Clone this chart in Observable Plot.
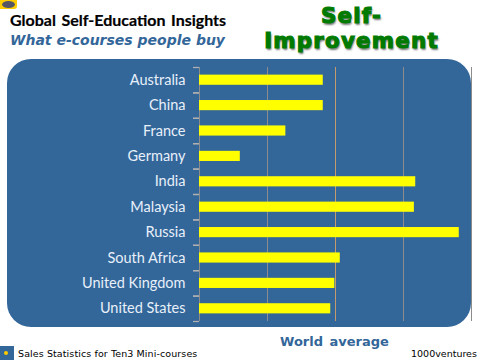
<!DOCTYPE html>
<html><head><meta charset="utf-8">
<script src="https://cdn.jsdelivr.net/npm/d3@7"></script>
<script src="https://cdn.jsdelivr.net/npm/@observablehq/plot@0.6"></script>
<style>
html,body{margin:0;padding:0;background:#fff;width:480px;height:360px;overflow:hidden}
#wrap{position:relative;width:480px;height:360px}
#panel{position:absolute;left:7px;top:59px;width:464px;height:268px;background:#336699;border-radius:24px}
#chart{position:absolute;left:0;top:0}
.t{position:absolute;white-space:nowrap;line-height:1}
#logo{position:absolute;left:0;top:0;width:17px;height:9px;background:#ffcc00;border-radius:0 0 3px 0}
#eye{position:absolute;left:2px;top:1px;width:13px;height:7px;border-radius:50%;background:#556;}
#icon{position:absolute;left:0;top:346px;width:14px;height:14px;background:#336699}
#dot{position:absolute;left:4px;top:5px;width:4px;height:4px;border-radius:50%;background:#ffcc00}
</style></head><body>
<div id="wrap">
<div id="logo"><div id="eye"></div></div>
<div class="t" style="left:10px;top:10px;font:bold 16px Lato,sans-serif;color:#000;word-spacing:1.6px;-webkit-text-stroke:.2px #000">Global Self-Education Insights</div>
<div class="t" style="left:10px;top:32px;font:italic bold 14px 'DejaVu Sans',sans-serif;color:#336699">What e-courses people buy</div>
<div class="t" style="left:264px;top:3px;width:175px;text-align:center;font:bold 21.4px/25.2px 'DejaVu Sans',sans-serif;color:#007a00;-webkit-text-stroke:1.1px #007a00;text-shadow:1px 2px 2px #777;letter-spacing:1.2px;white-space:normal">Self-<br>Improvement</div>
<div id="panel"></div>
<div id="chart"></div>
<div class="t" style="left:280px;top:334px;font:bold 13px 'DejaVu Sans',sans-serif;color:#336699;word-spacing:2px">World average</div>
<div id="icon"><div id="dot"></div></div>
<div class="t" style="left:18px;top:348px;font:9.5px 'DejaVu Sans',sans-serif;color:#000;letter-spacing:.1px">Sales Statistics for Ten3 Mini-courses</div>
<div class="t" style="left:411px;top:348px;font:9.5px 'DejaVu Sans',sans-serif;color:#000">1000ventures</div>
</div>
<script>
const countries = ["Australia","China","France","Germany","India","Malaysia","Russia","South Africa","United Kingdom","United States"];
const values = [1.82,1.82,1.27,0.60,3.18,3.16,3.82,2.07,1.99,1.93];
const grayGrid = [0,1,3,4];
const averageGrid = [2];
const rows = countries.map((country,i)=>({country,value:values[i]}));
const plot = Plot.plot({
  width:480,height:360,
  marginLeft:199,marginRight:9,marginTop:67,marginBottom:39,
  style:{background:"transparent",fontFamily:"Lato,sans-serif",fontSize:"14.5px",color:"#e8f0fa"},
  x:{domain:[0,4],axis:null},
  y:{domain:countries,paddingInner:0.6,paddingOuter:0.3,round:false,label:null,axis:null},
  marks:[
    Plot.ruleX(grayGrid,{stroke:"#8c8c8c",strokeWidth:1}),
    Plot.ruleX(averageGrid,{stroke:"#c49a6c",strokeWidth:1}),
    Plot.axisY({anchor:"left",tickSize:6,text:null,dy:-12.7,stroke:"#b0b0b0",strokeOpacity:1,strokeWidth:1.3}),
    Plot.axisY({anchor:"left",tickSize:6,text:null,dy:12.7,stroke:"#b0b0b0",strokeOpacity:1,strokeWidth:1.3}),
    Plot.axisY({anchor:"left",tickSize:0,tickPadding:14,label:null,fill:"#e8f0fa"}),
    Plot.barX(rows,{x:"value",y:"country",fill:"#ffff00",sort:null})
  ]
});
document.getElementById("chart").appendChild(plot);
</script>
</body></html>
